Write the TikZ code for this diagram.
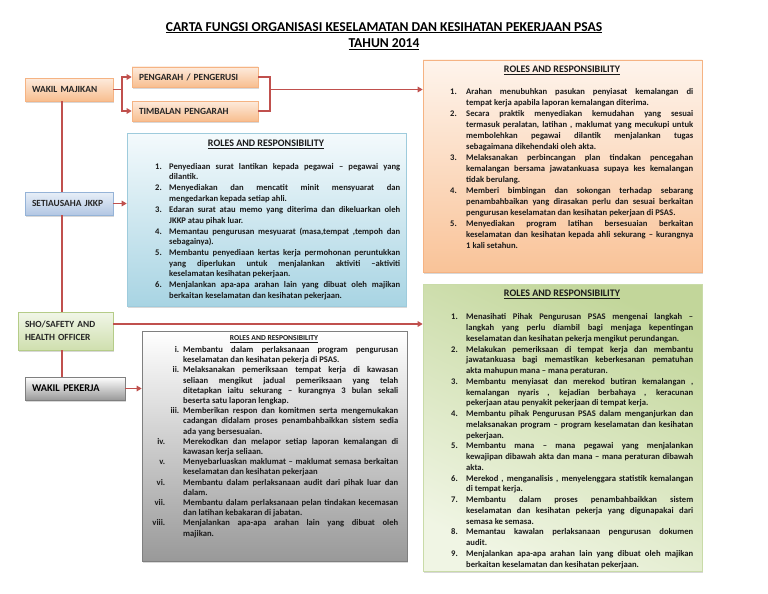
\documentclass[tikz,border=0pt]{standalone}
\usepackage{fontspec}
\setmainfont{Carlito}
\usetikzlibrary{arrows.meta,shadows}
\definecolor{cred}{HTML}{C0504D}
\definecolor{ortop}{HTML}{FEF4EC}
\definecolor{orbot}{HTML}{F9C398}
\definecolor{orline}{HTML}{F5B383}
\definecolor{osmtop}{HTML}{FDEBDD}
\definecolor{osmbot}{HTML}{F8BE8F}
\definecolor{bltop}{HTML}{F4FAFC}
\definecolor{blbot}{HTML}{A8D4E3}
\definecolor{blline}{HTML}{9ECBDC}
\definecolor{bsmtop}{HTML}{E8EFF8}
\definecolor{bsmbot}{HTML}{B3C7E3}
\definecolor{bsmline}{HTML}{95B3D7}
\definecolor{grtop}{HTML}{C2D69A}
\definecolor{grbot}{HTML}{F0F5E4}
\definecolor{grline}{HTML}{C9DBA8}
\definecolor{gsmtop}{HTML}{F1F6E8}
\definecolor{gsmbot}{HTML}{CFDFAE}
\definecolor{gsmline}{HTML}{B5CC88}
\definecolor{gybot}{HTML}{999999}
\definecolor{gyline}{HTML}{7F7F7F}
\definecolor{txt}{HTML}{1A1A1A}
\newlength\rsind
\newcommand\rsitem[2]{\par\noindent\hangindent=\rsind\hangafter=1\makebox[\rsind][l]{#1}#2\par}
\newcommand\rsritem[3]{\par\noindent\hangindent=\rsind\hangafter=1\makebox[\rsind][r]{#1\hspace{#2}}#3\par}
\begin{document}
\begin{tikzpicture}[x=1pt,y=-1pt,
  conn/.style={draw=cred,line width=1.4pt},
  arr/.style={conn,-{Triangle[length=5pt,width=5.5pt]}},
  shad/.style={drop shadow={opacity=0.3,shadow xshift=1pt,shadow yshift=-1.5pt}},
  smallbox/.style={shad,line width=0.6pt,inner xsep=7pt,inner ysep=0pt,align=left,font=\fontsize{9.4}{13}\selectfont\bfseries,text=black!85},
  orsmall/.style={smallbox,draw=orline,top color=osmtop,bottom color=osmbot},
  blsmall/.style={smallbox,draw=bsmline,top color=bsmtop,bottom color=bsmbot},
  grsmall/.style={smallbox,draw=gsmline,top color=gsmtop,bottom color=gsmbot},
  gysmall/.style={smallbox,draw=gyline,top color=white,bottom color=gybot,font=\fontsize{10.3}{12}\selectfont\bfseries,text=black},
  bigbox/.style={shad,line width=0.6pt,inner sep=0pt},
  list/.style={anchor=north west,inner sep=0pt,align=justify,text=txt},
  rtitle/.style={font=\fontsize{10}{11}\selectfont\bfseries,text=txt,inner sep=0pt}
]
\useasboundingbox[fill=white] (0,0) rectangle (768,594);

% title
\node[align=center,font=\fontsize{13.6}{16.5}\selectfont\bfseries,inner sep=0pt] (title) at (384,36)
  {\underline{CARTA FUNGSI ORGANISASI KESELAMATAN DAN KESIHATAN PEKERJAAN PSAS}\\\underline{TAHUN 2014}};

% big boxes
\node[bigbox,draw=orline,top color=ortop,bottom color=orbot,minimum width=279pt,minimum height=212pt] (orange) at (562.5,166) {};
\node[bigbox,draw=blline,top color=bltop,bottom color=blbot,minimum width=279pt,minimum height=173pt] (blue) at (266.5,219.5) {};
\node[bigbox,draw=grline,top color=grtop,bottom color=grbot,shading angle=-25,minimum width=279pt,minimum height=287pt] (green) at (562.5,427.5) {};
\node[bigbox,draw=gyline,top color=white,bottom color=gybot,minimum width=265pt,minimum height=230pt] (gray) at (274.5,446) {};

% small boxes
\node[orsmall,text width=74pt,minimum height=23pt] (wm) at (69,89.5) {WAKIL MAJIKAN};
\node[orsmall,text width=112pt,minimum height=20pt] (peng) at (195,77) {PENGARAH / PENGERUSI};
\node[orsmall,text width=112pt,minimum height=20pt] (timb) at (195,111) {TIMBALAN PENGARAH};
\node[blsmall,text width=74pt,minimum height=23pt] (sec) at (69,203.5) {SETIAUSAHA JKKP};
\node[grsmall,text width=81pt,minimum height=38pt] (sho) at (65.5,331) {SHO/SAFETY AND\\HEALTH OFFICER};
\node[gysmall,text width=86pt,minimum height=23pt] (wp) at (75,388.5) {WAKIL PEKERJA};

% connectors
\coordinate (vx) at (62,0);
\coordinate (br) at (122,89.5);
\coordinate (bk) at (270,89.5);
\coordinate (sy) at (0,324);
\draw[conn] (wm.east) -- (br);
\draw[arr] (br) |- (peng.west);
\draw[arr] (br) |- (timb.west);
\draw[conn] (peng.east) -- (peng.east -| bk) -- (timb.east -| bk) -- (timb.east);
\draw[arr] (bk) -- (orange.west |- bk);
\draw[conn] (wm.south -| vx) -- (sec.north -| vx);
\draw[conn] (sec.south -| vx) -- (sho.north -| vx);
\draw[conn] (sho.south -| vx) -- (wp.north -| vx);
\draw[arr] (sec.east) -- (blue.west |- sec.east);
\draw[arr] (sho.east |- sy) -- (green.west |- sy);
\draw[arr] (wp.east) -- (gray.west |- wp.east);

% orange list
\node[rtitle] (otitle) at (562,70) {\underline{ROLES AND RESPONSIBILITY}};
\node[list,text width=243pt,font=\fontsize{8.6}{10.9}\selectfont\bfseries] (olist) at (450,83) {\setlength\rsind{16pt}\setlength\parskip{0.3pt}%
\rsitem{1.}{Arahan menubuhkan pasukan penyiasat kemalangan di \linebreak tempat kerja apabila laporan kemalangan diterima.}
\rsitem{2.}{Secara praktik menyediakan kemudahan yang sesuai \linebreak termasuk peralatan, latihan , maklumat yang mecukupi untuk \linebreak membolehkan pegawai dilantik menjalankan tugas \linebreak sebagaimana dikehendaki oleh akta.}
\rsitem{3.}{Melaksanakan perbincangan plan tindakan pencegahan \linebreak kemalangan bersama jawatankuasa supaya kes kemalangan \linebreak tidak berulang.}
\rsitem{4.}{Memberi bimbingan dan sokongan terhadap sebarang \linebreak penambahbaikan yang dirasakan perlu dan sesuai berkaitan \linebreak pengurusan keselamatan dan kesihatan pekerjaan di PSAS.}
\rsitem{5.}{Menyediakan program latihan bersesuaian berkaitan \linebreak keselamatan dan kesihatan kepada ahli sekurang – kurangnya \linebreak 1 kali setahun.}};

% blue list
\node[rtitle] (btitle) at (266,144) {\underline{ROLES AND RESPONSIBILITY}};
\node[list,text width=245pt,font=\fontsize{8.6}{10.6}\selectfont\bfseries] (blist) at (155,158) {\setlength\rsind{14pt}\setlength\parskip{0.4pt}%
\rsitem{1.}{Penyediaan surat lantikan kepada pegawai – pegawai yang \linebreak dilantik.}
\rsitem{2.}{Menyediakan dan mencatit minit mensyuarat dan \linebreak mengedarkan kepada setiap ahli.}
\rsitem{3.}{Edaran surat atau memo yang diterima dan dikeluarkan oleh \linebreak JKKP atau pihak luar.}
\rsitem{4.}{Memantau pengurusan mesyuarat (masa,tempat ,tempoh dan \linebreak sebagainya).}
\rsitem{5.}{Membantu penyediaan kertas kerja permohonan peruntukkan \linebreak yang diperlukan untuk menjalankan aktiviti –aktiviti \linebreak keselamatan kesihatan pekerjaan.}
\rsitem{6.}{Menjalankan apa-apa arahan lain yang dibuat oleh majikan \linebreak berkaitan keselamatan dan kesihatan pekerjaan.}};

% green list
\node[rtitle] (gtitle) at (562,294) {\underline{ROLES AND RESPONSIBILITY}};
\node[list,text width=242pt,font=\fontsize{8.6}{10.75}\selectfont\bfseries] (glist) at (451,309) {\setlength\rsind{15pt}\setlength\parskip{0pt}%
\rsitem{1.}{Menasihati Pihak Pengurusan PSAS mengenai langkah – \linebreak langkah yang perlu diambil bagi menjaga kepentingan \linebreak keselamatan dan kesihatan pekerja mengikut perundangan.}
\rsitem{2.}{Melakukan pemeriksaan di tempat kerja dan membantu \linebreak jawatankuasa bagi memastikan keberkesanan pematuhan \linebreak akta mahupun mana – mana peraturan.}
\rsitem{3.}{Membantu menyiasat dan merekod butiran kemalangan , \linebreak kemalangan nyaris , kejadian berbahaya , keracunan \linebreak pekerjaan atau penyakit pekerjaan di tempat kerja.}
\rsitem{4.}{Membantu pihak Pengurusan PSAS dalam menganjurkan dan \linebreak melaksanakan program – program keselamatan dan kesihatan \linebreak pekerjaan.}
\rsitem{5.}{Membantu mana – mana pegawai yang menjalankan \linebreak kewajipan dibawah akta dan mana – mana peraturan dibawah \linebreak akta.}
\rsitem{6.}{Merekod , menganalisis , menyelenggara statistik kemalangan \linebreak di tempat kerja.}
\rsitem{7.}{Membantu dalam proses penambahbaikkan sistem \linebreak keselamatan dan kesihatan pekerja yang digunapakai dari \linebreak semasa ke semasa.}
\rsitem{8.}{Memantau kawalan perlaksanaan pengurusan dokumen \linebreak audit.}
\rsitem{9.}{Menjalankan apa-apa arahan lain yang dibuat oleh majikan \linebreak berkaitan keselamatan dan kesihatan pekerjaan.}};

% gray list
\node[rtitle,font=\fontsize{7.6}{8}\selectfont\bfseries] (ytitle) at (274,339) {\underline{ROLES AND RESPONSIBILITY}};
\node[list,text width=248pt,font=\fontsize{8.6}{10.2}\selectfont\bfseries] (ylist) at (150,342) {\setlength\rsind{33pt}\setlength\parskip{0pt}%
\rsritem{i.}{4pt}{Membantu dalam perlaksanaan program pengurusan \linebreak keselamatan dan kesihatan pekerja di PSAS.}
\rsritem{ii.}{4pt}{Melaksanakan pemeriksaan tempat kerja di kawasan \linebreak seliaan mengikut jadual pemeriksaan yang telah \linebreak ditetapkan iaitu sekurang – kurangnya 3 bulan sekali \linebreak beserta satu laporan lengkap.}
\rsritem{iii.}{4pt}{Memberikan respon dan komitmen serta mengemukakan \linebreak cadangan didalam proses penambahbaikkan sistem sedia \linebreak ada yang bersesuaian.}
\rsritem{iv.}{18pt}{Merekodkan dan melapor setiap laporan kemalangan di \linebreak kawasan kerja seliaan.}
\rsritem{v.}{18pt}{Menyebarluaskan maklumat – maklumat semasa berkaitan \linebreak keselamatan dan kesihatan pekerjaan}
\rsritem{vi.}{18pt}{Membantu dalam perlaksanaan audit dari pihak luar dan \linebreak dalam.}
\rsritem{vii.}{18pt}{Membantu dalam perlaksanaan pelan tindakan kecemasan \linebreak dan latihan kebakaran di jabatan.}
\rsritem{viii.}{18pt}{Menjalankan apa-apa arahan lain yang dibuat oleh \linebreak majikan.}};
\end{tikzpicture}
\end{document}
